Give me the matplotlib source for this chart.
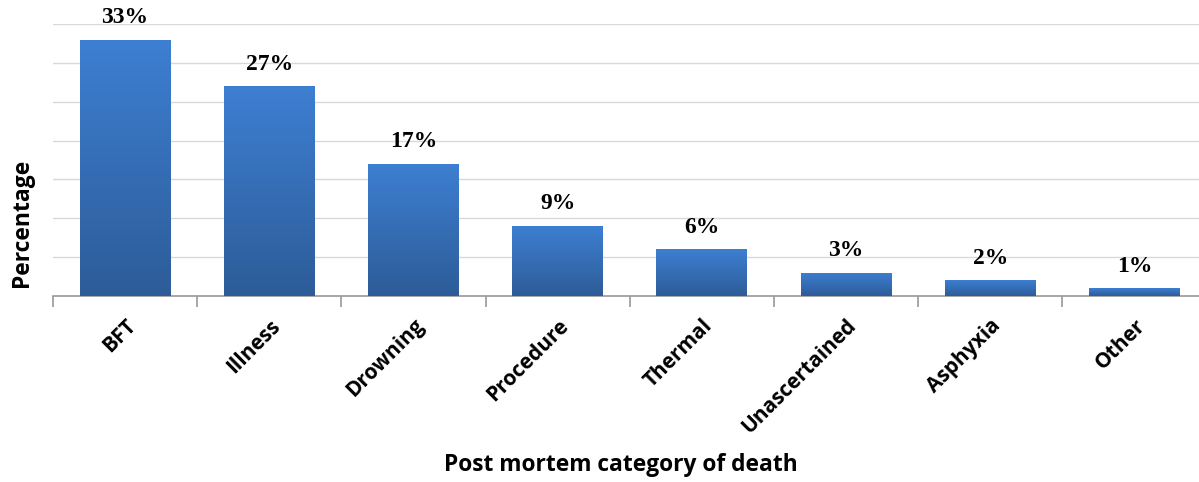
import matplotlib.pyplot as plt
import numpy as np
from matplotlib.colors import LinearSegmentedColormap

# Data
categories = ['BFT', 'Illness', 'Drowning', 'Procedure', 'Thermal',
              'Unascertained', 'Asphyxia', 'Other']
percentages = [33, 27, 17, 9, 6, 3, 2, 1]

BAR_WIDTH = 0.63
TOP_COLOR = '#3d7fd2'
BOTTOM_COLOR = '#2d5c98'


def draw_gradient_bars(ax, x, heights):
    """Bars with a vertical gradient, lighter at the top"""
    cmap = LinearSegmentedColormap.from_list('bar', [BOTTOM_COLOR, TOP_COLOR])
    bars = ax.bar(x, heights, BAR_WIDTH, color=TOP_COLOR, zorder=2)
    grad = np.linspace(0, 1, 256).reshape(-1, 1)
    for bar in bars:
        x0, y0 = bar.get_x(), bar.get_y()
        w, h = bar.get_width(), bar.get_height()
        im = ax.imshow(grad, cmap=cmap, origin='lower', aspect='auto',
                       extent=[x0, x0 + w, y0, y0 + h], zorder=3)
        im.set_clip_path(bar)
    return bars


def main():
    fig = plt.figure(figsize=(11.99, 4.82), dpi=100)
    ax = fig.add_axes([0.0442, 0.386, 0.9621, 0.564])

    x = np.arange(len(categories))
    bars = draw_gradient_bars(ax, x, percentages)

    for bar, val in zip(bars, percentages):
        ax.text(bar.get_x() + bar.get_width() / 2, val + 1.5, f'{val}%',
                ha='center', va='bottom', fontsize=17, fontweight='bold',
                family='Liberation Serif', zorder=4)

    ax.set_xlim(-0.5, len(categories) - 0.5)
    ax.set_ylim(0, 35)
    ax.set_yticks(np.arange(5, 36, 5))
    ax.set_yticklabels([])
    ax.tick_params(axis='y', length=0)
    ax.grid(axis='y', color='#d9d9d9', linewidth=1, zorder=0)
    ax.set_axisbelow(True)

    ax.set_xticks(x)
    ax.set_xticklabels(categories, rotation=45, ha='right',
                       rotation_mode='anchor', fontsize=15,
                       fontweight='bold', family='Open Sans')
    ax.tick_params(axis='x', which='major', length=0, pad=14)
    ax.set_xticks(np.arange(-0.5, len(categories), 1), minor=True)
    ax.tick_params(axis='x', which='minor', length=8, color='#999999',
                   width=1.2)

    for side in ['top', 'right', 'left']:
        ax.spines[side].set_visible(False)
    ax.spines['bottom'].set_color('#999999')
    ax.spines['bottom'].set_linewidth(1.2)

    fig.text(0.018, 0.537, 'Percentage', rotation=90, ha='center',
             va='center', fontsize=16.5, fontweight='bold',
             family='Open Sans')
    fig.text(0.518, 0.035, 'Post mortem category of death', ha='center',
             va='center', fontsize=16.4, fontweight='bold',
             family='Open Sans')

    fig.savefig('out.png', dpi=100)


if __name__ == '__main__':
    main()
